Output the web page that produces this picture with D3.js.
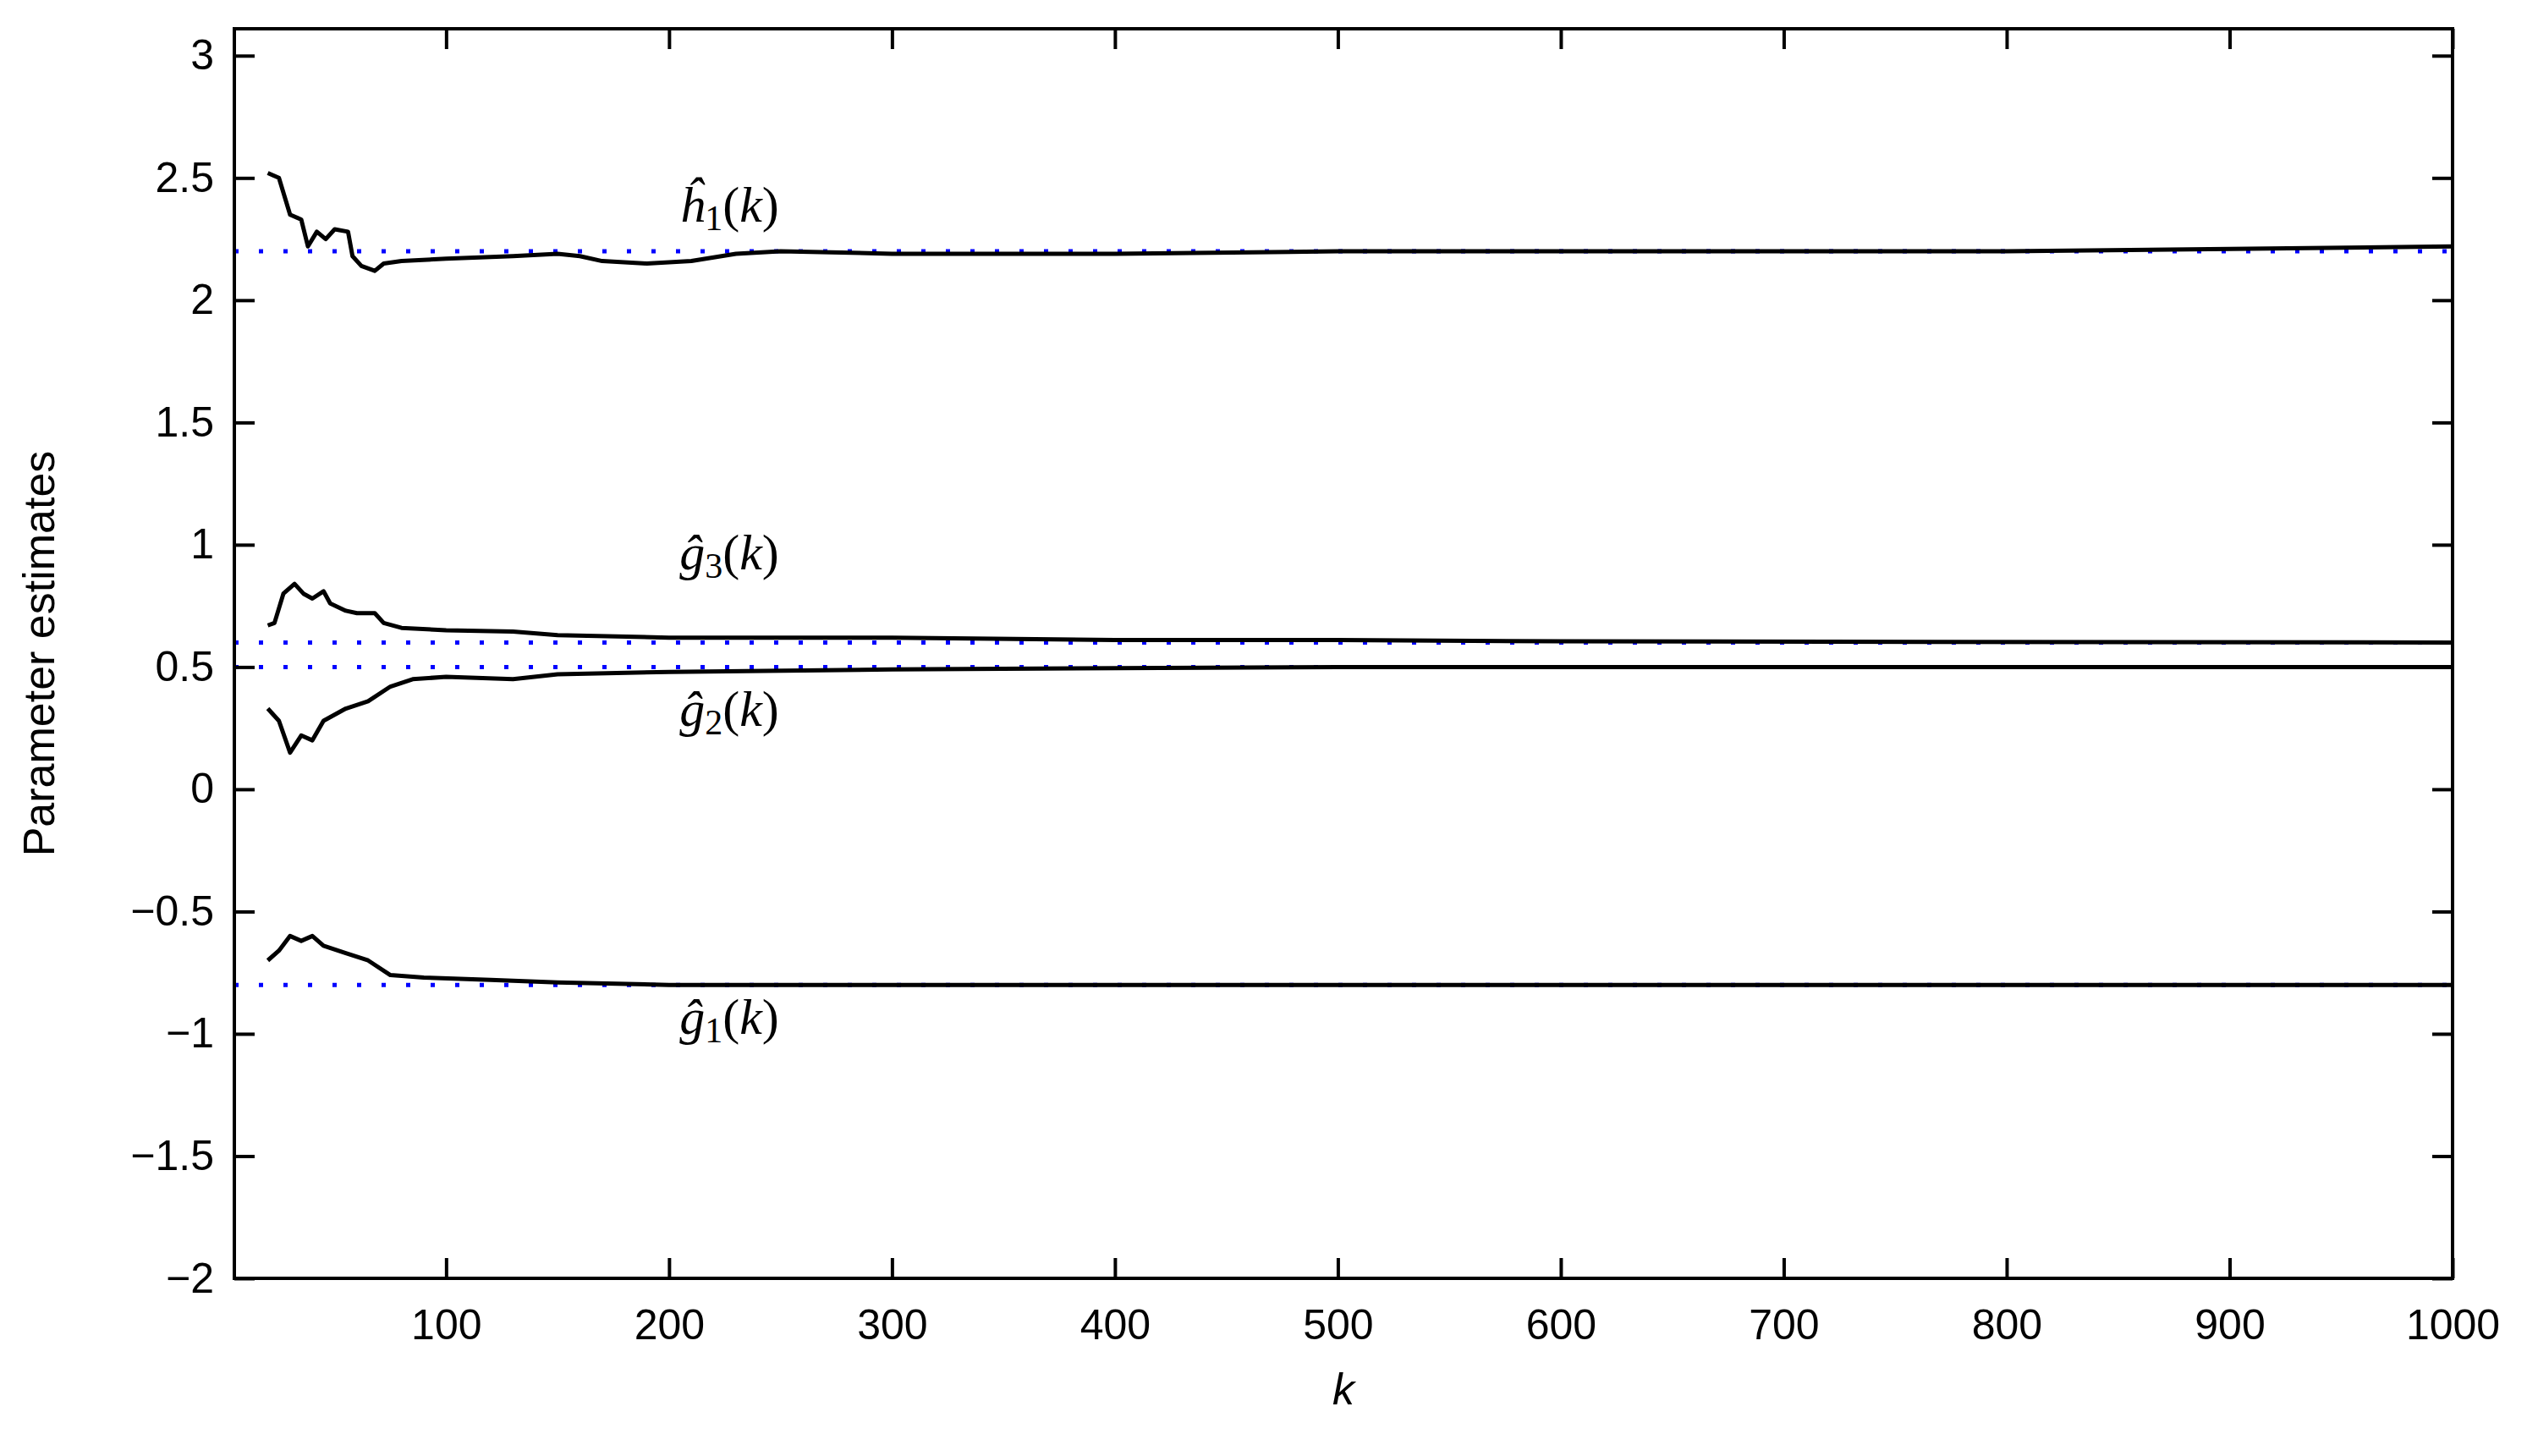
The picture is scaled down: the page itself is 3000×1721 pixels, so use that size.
<!DOCTYPE html>
<html><head><meta charset="utf-8">
<script src="https://cdn.jsdelivr.net/npm/d3@7"></script>
<style>body{margin:0;background:#fff}</style></head>
<body><svg id="c" width="3000" height="1721"></svg>
<script>
const xTicks=[100,200,300,400,500,600,700,800,900,1000];
const yTicks=[-2,-1.5,-1,-0.5,0,0.5,1,1.5,2,2.5,3];
const trueValues=[2.2,0.6,0.5,-0.8];
const kH1=[20,25,30,35,38,42,46,50,56,58,62,68,72,80,100,130,150,160,170,190,210,230,250,300,400,500,600,700,800,900,1000];
const h1=[2.52,2.5,2.35,2.33,2.22,2.28,2.25,2.29,2.28,2.18,2.14,2.12,2.15,2.16,2.17,2.18,2.19,2.18,2.16,2.15,2.16,2.19,2.2,2.19,2.19,2.2,2.2,2.2,2.2,2.21,2.22];
const kG3=[20,23,27,32,36,40,45,48,55,60,68,72,80,100,130,150,200,300,400,500,600,1000];
const g3=[0.67,0.68,0.8,0.84,0.8,0.78,0.81,0.76,0.73,0.72,0.72,0.68,0.66,0.65,0.645,0.63,0.62,0.62,0.61,0.61,0.605,0.6];
const kG2=[20,25,30,35,40,45,55,65,75,85,100,130,150,200,300,500,1000];
const g2=[0.33,0.28,0.15,0.22,0.2,0.28,0.33,0.36,0.42,0.45,0.46,0.45,0.47,0.48,0.49,0.5,0.5];
const kG1=[20,25,30,35,40,45,55,65,75,90,120,150,200,1000];
const g1=[-0.7,-0.66,-0.6,-0.62,-0.6,-0.64,-0.67,-0.7,-0.76,-0.77,-0.78,-0.79,-0.8,-0.8];
const labels=[{b:"h",s:"1",k:227,v:2.32},{b:"g",s:"3",k:227,v:0.9},{b:"g",s:"2",k:227,v:0.26},{b:"g",s:"1",k:227,v:-1.0}];

const L=277,R=2899,T=34,B=1511;
const x=d3.scaleLinear().domain([5,1000]).range([L,R]);
const y=d3.scaleLinear().domain([-2,3.11]).range([B,T]);
const svg=d3.select("#c");
const font="'Liberation Sans',Arial,sans-serif";

trueValues.forEach(v=>svg.append("line").attr("x1",L).attr("x2",R).attr("y1",y(v)).attr("y2",y(v))
  .attr("stroke","#0000ff").attr("stroke-width",5).attr("stroke-dasharray","5,24"));

const line=d3.line().x(d=>x(d[0])).y(d=>y(d[1]));
[[kH1,h1],[kG3,g3],[kG2,g2],[kG1,g1]].forEach(([ks,vs])=>{
  svg.append("path").datum(ks.map((k,i)=>[k,vs[i]])).attr("d",line)
   .attr("fill","none").attr("stroke","#000").attr("stroke-width",5).attr("stroke-linejoin","round");
});

svg.append("rect").attr("x",L).attr("y",T).attr("width",R-L).attr("height",B-T).attr("fill","none").attr("stroke","#000").attr("stroke-width",4);
const tl=24;
const gx=svg.append("g").attr("transform",`translate(0,${B})`).call(d3.axisBottom(x).tickValues(xTicks).tickSize(-tl).tickPadding(36).tickFormat(d3.format("d")));
const gxt=svg.append("g").attr("transform",`translate(0,${T})`).call(d3.axisTop(x).tickValues(xTicks).tickSize(-tl).tickFormat(""));
const gy=svg.append("g").attr("transform",`translate(${L},0)`).call(d3.axisLeft(y).tickValues(yTicks).tickSize(-tl).tickPadding(24).tickFormat(d=>d<0?"\u2212"+Math.abs(d):String(d)));
const gyr=svg.append("g").attr("transform",`translate(${R},0)`).call(d3.axisRight(y).tickValues(yTicks).tickSize(-tl).tickFormat(""));
[gx,gxt,gy,gyr].forEach(g=>{g.select(".domain").remove();g.selectAll("line").attr("stroke-width",4);
  g.selectAll("text").attr("font-family",font).attr("font-size",50).attr("fill","#000");});

svg.append("text").attr("x",(L+R)/2).attr("y",1660).attr("text-anchor","middle").attr("font-family",font)
 .attr("font-size",52).attr("font-style","italic").text("k");
svg.append("text").attr("transform",`translate(64,${(T+B)/2}) rotate(-90)`).attr("text-anchor","middle")
 .attr("font-family",font).attr("font-size",52).text("Parameter estimates");

labels.forEach(l=>{
  const t=svg.append("text").attr("x",x(l.k)).attr("y",y(l.v)).attr("text-anchor","middle")
   .attr("font-family","'Liberation Serif','DejaVu Serif',serif").attr("font-size",60);
  t.append("tspan").attr("font-style","italic").text(l.b==="h"?"\u0125":"\u011D");
  t.append("tspan").attr("font-size",42).attr("dy",10).text(l.s);
  t.append("tspan").attr("dy",-10).text("(");
  t.append("tspan").attr("font-style","italic").text("k");
  t.append("tspan").text(")");
});
</script></body></html>
